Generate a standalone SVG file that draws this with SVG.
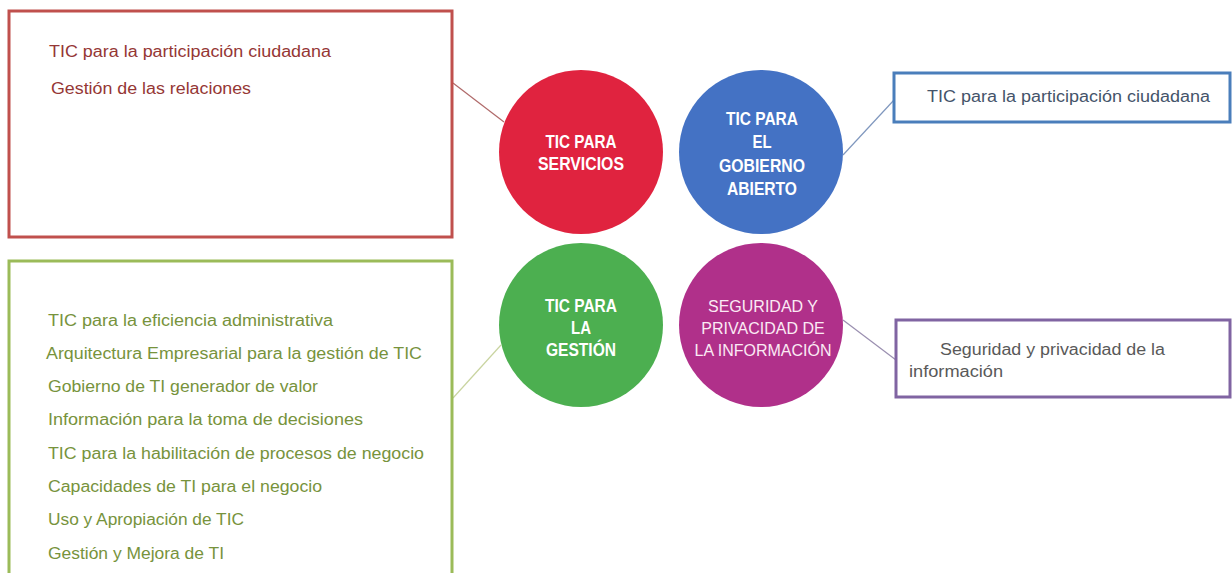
<svg xmlns="http://www.w3.org/2000/svg" width="1232" height="573" viewBox="0 0 1232 573">
<style>
.box{fill:#ffffff;stroke-width:3}
.t{font-family:"Liberation Sans",Arial,sans-serif;font-size:16px}
.cb{font-family:"Liberation Sans",Arial,sans-serif;font-size:18px;font-weight:bold;fill:#ffffff;text-anchor:middle}
.cr{font-family:"Liberation Sans",Arial,sans-serif;font-size:16px;fill:#fbeaf4;text-anchor:middle}
.conn line{stroke-width:1.2}
</style>
<rect width="1232" height="573" fill="#ffffff"/>
<g class="conn" id="connectors">
<line x1="453" y1="83" x2="504" y2="122" stroke="#b06a6a"/>
<line x1="843" y1="155" x2="894" y2="100" stroke="#7f97be"/>
<line x1="453" y1="398" x2="501" y2="345" stroke="#c9d4a0"/>
<line x1="843" y1="320" x2="896" y2="360" stroke="#9a8fb0"/>
</g>
<g id="box-servicios">
<rect class="box" x="9" y="11" width="443" height="226" stroke="#c0504d"/>
<text class="t" fill="#953735" x="49" y="57" textLength="282" lengthAdjust="spacingAndGlyphs">TIC para la participación ciudadana</text>
<text class="t" fill="#953735" x="51" y="94" textLength="200" lengthAdjust="spacingAndGlyphs">Gestión de las relaciones</text>
</g>
<g id="box-gestion">
<rect class="box" x="9" y="261" width="443" height="330" stroke="#9bbb59"/>
<g fill="#77933c">
<text class="t" x="48" y="326" textLength="285" lengthAdjust="spacingAndGlyphs">TIC para la eficiencia administrativa</text>
<text class="t" x="46" y="359" textLength="376" lengthAdjust="spacingAndGlyphs">Arquitectura Empresarial para la gestión de TIC</text>
<text class="t" x="48" y="392" textLength="270" lengthAdjust="spacingAndGlyphs">Gobierno de TI generador de valor</text>
<text class="t" x="48" y="425" textLength="315" lengthAdjust="spacingAndGlyphs">Información para la toma de decisiones</text>
<text class="t" x="48" y="459" textLength="376" lengthAdjust="spacingAndGlyphs">TIC para la habilitación de procesos de negocio</text>
<text class="t" x="48" y="492" textLength="274" lengthAdjust="spacingAndGlyphs">Capacidades de TI para el negocio</text>
<text class="t" x="48" y="525" textLength="196" lengthAdjust="spacingAndGlyphs">Uso y Apropiación de TIC</text>
<text class="t" x="48" y="559" textLength="176" lengthAdjust="spacingAndGlyphs">Gestión y Mejora de TI</text>
</g>
</g>
<g id="box-gobierno">
<rect class="box" x="894" y="73" width="336" height="49" stroke="#4a7ebb"/>
<text class="t" fill="#44546a" x="927" y="102" textLength="283" lengthAdjust="spacingAndGlyphs">TIC para la participación ciudadana</text>
</g>
<g id="box-seguridad">
<rect class="box" x="896" y="320" width="334" height="77" stroke="#8064a2"/>
<text class="t" fill="#595959" x="940" y="355" textLength="225" lengthAdjust="spacingAndGlyphs">Seguridad y privacidad de la</text>
<text class="t" fill="#595959" x="909" y="377" textLength="94" lengthAdjust="spacingAndGlyphs">información</text>
</g>
<g id="circle-servicios">
<circle cx="581" cy="152" r="82" fill="#e0233f"/>
<text class="cb" x="581" y="148" textLength="71" lengthAdjust="spacingAndGlyphs">TIC PARA</text>
<text class="cb" x="581" y="170" textLength="86" lengthAdjust="spacingAndGlyphs">SERVICIOS</text>
</g>
<g id="circle-gobierno">
<circle cx="761" cy="152" r="82" fill="#4472c4"/>
<text class="cb" x="762" y="125" textLength="72" lengthAdjust="spacingAndGlyphs">TIC PARA</text>
<text class="cb" x="762" y="148" textLength="19" lengthAdjust="spacingAndGlyphs">EL</text>
<text class="cb" x="762" y="172" textLength="86" lengthAdjust="spacingAndGlyphs">GOBIERNO</text>
<text class="cb" x="762" y="195" textLength="70" lengthAdjust="spacingAndGlyphs">ABIERTO</text>
</g>
<g id="circle-gestion">
<circle cx="581" cy="325" r="82" fill="#4caf50"/>
<text class="cb" x="581" y="312" textLength="72" lengthAdjust="spacingAndGlyphs">TIC PARA</text>
<text class="cb" x="581" y="334" textLength="20" lengthAdjust="spacingAndGlyphs">LA</text>
<text class="cb" x="581" y="356" textLength="70" lengthAdjust="spacingAndGlyphs">GESTIÓN</text>
</g>
<g id="circle-seguridad">
<circle cx="761" cy="325" r="82" fill="#b0308a"/>
<text class="cr" x="763" y="312">SEGURIDAD Y</text>
<text class="cr" x="763" y="334">PRIVACIDAD DE</text>
<text class="cr" x="763" y="356">LA INFORMACIÓN</text>
</g>
</svg>
